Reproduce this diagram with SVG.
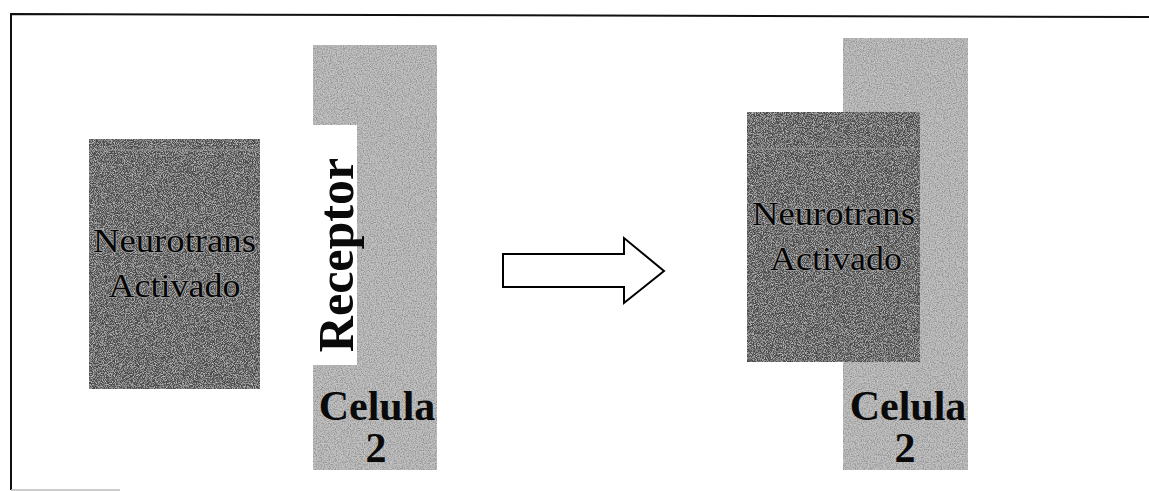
<svg xmlns="http://www.w3.org/2000/svg" width="1149" height="491" viewBox="0 0 1149 491">
  <defs>
    <!-- grainy stipple: dark specks on the cell strips -->
    <filter id="grain" x="0" y="0" width="100%" height="100%">
      <feTurbulence type="fractalNoise" baseFrequency="0.85" numOctaves="2" seed="4" result="noise"/>
      <feColorMatrix in="noise" type="matrix" values="0 0 0 0 0.3  0 0 0 0 0.3  0 0 0 0 0.3  2.8 0 0 0 -1.05" result="dots"/>
      <feComposite in="dots" in2="SourceGraphic" operator="in" result="clipped"/>
      <feMerge>
        <feMergeNode in="SourceGraphic"/>
        <feMergeNode in="clipped"/>
      </feMerge>
    </filter>
    <!-- light specks on the transmitter blocks -->
    <filter id="grainLight" x="0" y="0" width="100%" height="100%">
      <feTurbulence type="fractalNoise" baseFrequency="1.1" numOctaves="2" seed="9" result="noise"/>
      <feColorMatrix in="noise" type="matrix" values="0 0 0 0 0.75  0 0 0 0 0.75  0 0 0 0 0.75  1.8 0 0 0 -0.75" result="dots"/>
      <feComposite in="dots" in2="SourceGraphic" operator="in" result="clipped"/>
      <feMerge>
        <feMergeNode in="SourceGraphic"/>
        <feMergeNode in="clipped"/>
      </feMerge>
    </filter>
  </defs>
  <style>
    .cell { fill: #c2c2c2; filter: url(#grain); }
    .neuro { fill: #4c4c4c; filter: url(#grainLight); }
    .sheen { stroke: #a0a0a0; stroke-width: 1.2; opacity: 0.8; }
    .ntext { font-family: "Liberation Serif", "Times New Roman", serif; font-size: 34px; fill: #050505; stroke: #9a9a9a; stroke-width: 1.6; paint-order: stroke; text-anchor: middle; }
    .btext { font-family: "Liberation Serif", "Times New Roman", serif; font-size: 42px; font-weight: bold; fill: #0a0a0a; text-anchor: middle; }
    .frame { fill: none; stroke: #111; stroke-width: 2; }
    .arrow { fill: #fff; stroke: #000; stroke-width: 2; stroke-linejoin: miter; }
  </style>

  <rect width="1149" height="491" fill="#fff"/>

  <!-- outer frame -->
  <g id="frame">
    <polyline class="frame" points="11,490 11,14 1149,17"/>
    <line x1="11" y1="490" x2="120" y2="490" stroke="#bbb" stroke-width="1.5"/>
  </g>

  <!-- left: cell 2 with its receptor notch -->
  <g id="cell2-left">
    <rect class="cell" x="313" y="45" width="124" height="425"/>
    <rect id="receptor-bg" x="313" y="125" width="44" height="240" fill="#fff"/>
    <text class="btext" x="377" y="420">Celula</text>
    <text class="btext" x="376" y="462">2</text>
  </g>
  <g id="receptor">
    <text class="btext" style="font-size:50px" transform="translate(353,255) rotate(-90)" x="0" y="0">Receptor</text>
  </g>

  <!-- left: activated neurotransmitter -->
  <g id="neuro-left">
    <rect class="neuro" x="89" y="139" width="171" height="250"/>
    <line class="sheen" x1="89" y1="150" x2="260" y2="150"/>
    <text class="ntext" x="174.5" y="252" textLength="163" lengthAdjust="spacingAndGlyphs">Neurotrans</text>
    <text class="ntext" x="174.5" y="297" textLength="132" lengthAdjust="spacingAndGlyphs">Activado</text>
  </g>

  <!-- transition arrow -->
  <g id="connectors">
    <polygon class="arrow" points="503,254 624,254 624,238 664,271 624,303 624,287 503,287"/>
  </g>

  <!-- right: cell 2 with the transmitter bound -->
  <g id="cell2-right">
    <rect class="cell" x="843" y="38" width="125" height="432"/>
    <text class="btext" x="908" y="420">Celula</text>
    <text class="btext" x="905" y="462">2</text>
  </g>
  <g id="neuro-right">
    <rect class="neuro" x="747" y="112" width="173" height="250"/>
    <line class="sheen" x1="747" y1="149" x2="920" y2="149"/>
    <text class="ntext" x="833.5" y="225" textLength="163" lengthAdjust="spacingAndGlyphs">Neurotrans</text>
    <text class="ntext" x="836" y="270" textLength="132" lengthAdjust="spacingAndGlyphs">Activado</text>
  </g>
</svg>
